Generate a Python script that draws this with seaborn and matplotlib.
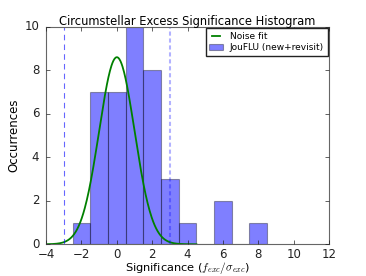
import numpy as np
import pandas as pd
import matplotlib
matplotlib.use("Agg")
import matplotlib.pyplot as plt
import seaborn as sns

# histogram bins (width 1, centred on integers) and counts
bin_centers = [-2, -1, 0, 1, 2, 3, 4, 5, 6, 7, 8]
counts = [1, 7, 7, 10, 8, 3, 1, 0, 2, 0, 1]

# gaussian noise fit parameters
fit_amp = 8.6
fit_mu = 0.0
fit_sigma = 1.0
fit_range = [-4.0, 4.5]

# detection thresholds
thresholds = [-3, 3]

plt.style.use('classic')
plt.rcParams['font.family'] = ['DejaVu Sans']

df = pd.DataFrame({'sig': bin_centers, 'n': counts})

xs = np.linspace(fit_range[0], fit_range[1], 300)
fit = pd.DataFrame({'x': xs, 'y': fit_amp * np.exp(-(xs - fit_mu) ** 2 / (2 * fit_sigma ** 2))})

fig = plt.figure(figsize=(3.66, 2.76), dpi=100, facecolor='white')
ax = fig.add_axes([0.126, 0.115, 0.773, 0.788])

sns.histplot(data=df, x='sig', weights='n', discrete=True,
             color='blue', alpha=0.5, edgecolor=(0, 0, 0, 0.35), linewidth=0.8,
             ax=ax, label='JouFLU (new+revisit)')
sns.lineplot(data=fit, x='x', y='y', color='green', linewidth=1.3, ax=ax, label='Noise fit')

ax.axvline(thresholds[0], color='blue', linestyle='--', linewidth=0.8, alpha=0.6, dashes=(4, 3))
ax.axvline(thresholds[1], color='blue', linestyle='--', linewidth=1.5, alpha=0.3, dashes=(3, 2))

ax.set_xlim(-4, 12)
ax.set_ylim(0, 10)
ax.set_xticks(np.arange(-4, 13, 2))
ax.set_yticks(np.arange(0, 11, 2))
ax.tick_params(labelsize=8.5, direction='in', length=3, width=0.5, colors='#222222', pad=3)
ax.tick_params(axis='y', pad=5)
for s in ax.spines.values():
    s.set_color('#666666')
    s.set_linewidth(0.8)

ax.set_title('Circumstellar Excess Significance Histogram', fontsize=8.3, pad=1)
ax.set_xlabel(r'Significance ($f_{exc}/\sigma_{exc}$)', fontsize=8.2, labelpad=-1)
ax.set_ylabel('Occurrences', fontsize=8.5, labelpad=3)

h, l = ax.get_legend_handles_labels()
order = [l.index('Noise fit'), l.index('JouFLU (new+revisit)')]
ax.legend([h[i] for i in order], [l[i] for i in order], loc='upper right',
          fontsize=6.5, frameon=True, handlelength=1.5, borderpad=0.4,
          labelspacing=0.3, fancybox=False, edgecolor='#222222',
          borderaxespad=0.15)

fig.savefig('out.png', dpi=100, facecolor='white')
